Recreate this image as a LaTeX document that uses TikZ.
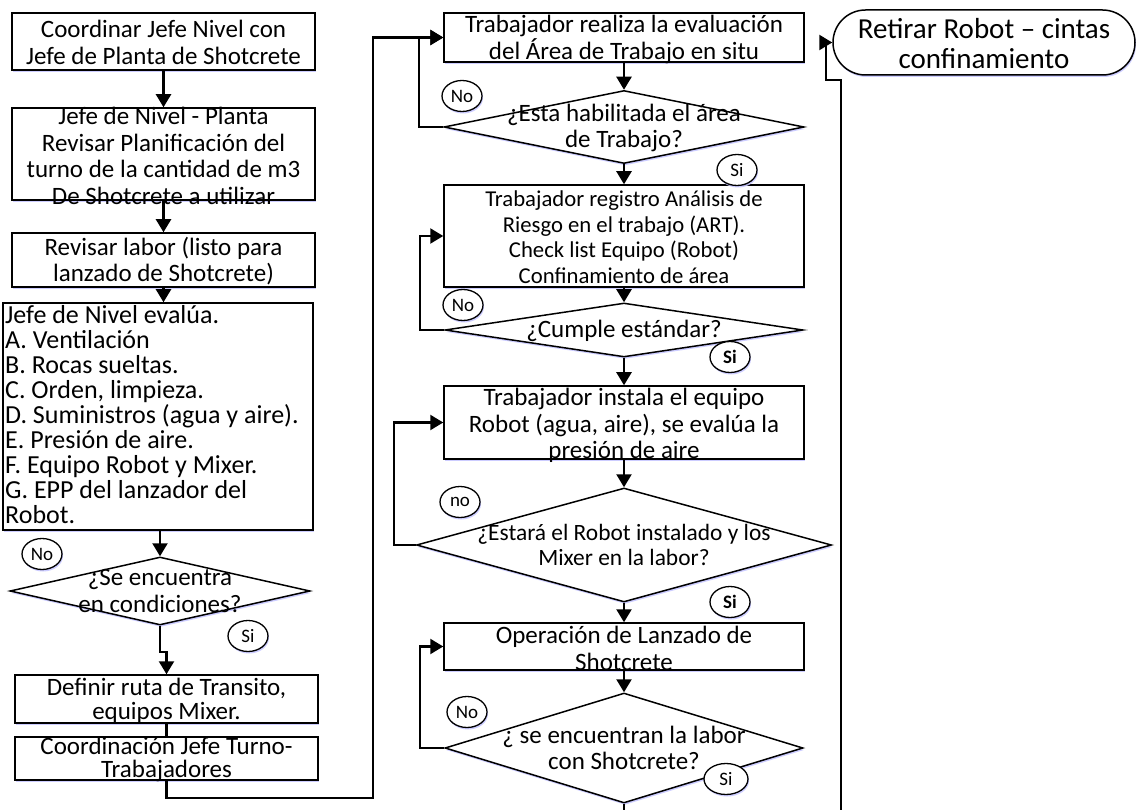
\documentclass[tikz,border=0pt]{standalone}
\usepackage{fontspec}
\setmainfont{Carlito}
\usetikzlibrary{arrows.meta,shapes.geometric,shapes.misc,shadows,calc}
\tikzset{
  shd/.style={drop shadow={shadow xshift=1pt,shadow yshift=-2pt,fill=blue!22,opacity=0.9}},
  box/.style={draw, rectangle, line width=1.5pt, fill=white, inner sep=0pt, shd},
  dia/.style={draw, diamond, line width=1.5pt, fill=white, inner sep=0pt, shd},
  term/.style={draw, rounded rectangle, line width=1.5pt, fill=white, inner sep=0pt, shd},
  txt/.style={align=center, inner sep=0pt, font=\fontsize{25}{26.5}\selectfont},
  ttxt/.style={align=center, inner sep=0pt, font=\fontsize{25}{23.5}\selectfont},
  stxt/.style={align=center, inner sep=0pt, font=\fontsize{22.7}{25.5}\selectfont},
  ltxt/.style={align=left, inner sep=0pt, font=\fontsize{26}{25}\selectfont},
  tag/.style={draw, ellipse, line width=1.3pt, fill=white, minimum width=40pt, minimum height=31pt, inner sep=0pt, font=\fontsize{19}{19}\selectfont, shd},
  btag/.style={tag, font=\fontsize{19}{19}\selectfont\bfseries},
  arr/.style={line width=2.3pt, -{Triangle[width=15pt,length=13pt]}},
  ln/.style={line width=2.3pt},
}
\begin{document}
\begin{tikzpicture}[x=1pt,y=-1pt]
\useasboundingbox (0,0) rectangle (1136,810);
\clip (0,0) rectangle (1136,810);
\fill[white] (0,0) rectangle (1136,810);

% left column
\node[box, minimum width=303pt, minimum height=57pt] (b1) at (163.5,41.5) {};
\node[txt] (t1) at ($(b1)+(0,1)$) {Coordinar Jefe Nivel con\\Jefe de Planta de Shotcrete};
\node[box, minimum width=303pt, minimum height=92pt] (b2) at (163.5,154) {};
\node[txt] (t2) at ($(b2)+(0,2)$) {Jefe de Nivel - Planta\\Revisar Planificación del\\turno de la cantidad de m3\\De Shotcrete a utilizar};
\node[box, minimum width=303pt, minimum height=54pt] (b3) at (163.5,260) {};
\node[txt] (t3) at ($(b3)+(0,1)$) {Revisar labor (listo para\\lanzado de Shotcrete)};
\node[box, minimum width=310pt, minimum height=227pt] (b4) at (158,416.5) {};
\node[ltxt, anchor=north west] (t4) at (5,305) {Jefe de Nivel evalúa.\\A. Ventilación\\B. Rocas sueltas.\\C. Orden, limpieza.\\D. Suministros (agua y aire).\\E. Presión de aire.\\F. Equipo Robot y Mixer.\\G. EPP del lanzador del\\Robot.};
\node[dia, minimum width=300pt, minimum height=68pt] (d1) at (160,591) {};
\node[txt] (td1) at (d1) {¿Se encuentra\\en condiciones?};
\node[box, minimum width=303pt, minimum height=48pt] (b5) at (166.5,699) {};
\node[ttxt] (t5) at ($(b5)+(0,2)$) {Definir ruta de Transito,\\equipos Mixer.};
\node[box, minimum width=303pt, minimum height=43pt] (b6) at (166.5,758.5) {};
\node[ttxt] (t6) at ($(b6)+(0,1)$) {Coordinación Jefe Turno-\\Trabajadores};

% middle column
\node[box, minimum width=360pt, minimum height=49pt] (m1) at (624,37.5) {};
\node[txt] (tm1) at ($(m1)+(0,2)$) {Trabajador realiza la evaluación\\del Área de Trabajo en situ};
\node[dia, minimum width=360pt, minimum height=73pt] (d2) at (624,127) {};
\node[txt] (td2) at ($(d2)+(0,1)$) {¿Esta habilitada el área\\de Trabajo?};
\node[box, minimum width=360pt, minimum height=102pt] (m2) at (624,236) {};
\node[stxt] (tm2) at ($(m2)+(0,1)$) {Trabajador registro Análisis de\\Riesgo en el trabajo (ART).\\Check list Equipo (Robot)\\Confinamiento de área};
\node[dia, minimum width=358pt, minimum height=54pt] (d3) at (624,330) {};
\node[txt] (td3) at ($(d3)+(0,1)$) {¿Cumple estándar?};
\node[box, minimum width=360pt, minimum height=73pt] (m3) at (624,422.5) {};
\node[txt] (tm3) at ($(m3)+(0,3)$) {Trabajador instala el equipo\\Robot (agua, aire), se evalúa la\\presión de aire};
\node[dia, minimum width=415pt, minimum height=114pt] (d4) at (624,545) {};
\node[stxt, font=\fontsize{23.4}{25}\selectfont] (td4) at (d4) {¿Estará el Robot instalado y los\\Mixer en la labor?};
\node[box, minimum width=360pt, minimum height=47pt] (m4) at (624,646.5) {};
\node[txt] (tm4) at ($(m4)+(0,2)$) {Operación de Lanzado de\\Shotcrete};
\node[dia, minimum width=358pt, minimum height=110pt] (d5) at (624,748) {};
\node[txt] (td5) at (d5) {¿ se encuentran la labor\\con Shotcrete?};

% right
\node[term, minimum width=302pt, minimum height=65pt] (r) at (984,42.5) {};
\node[align=center, inner sep=0pt, font=\fontsize{29}{30}\selectfont] (tr) at ($(r)+(0,1)$) {Retirar Robot – cintas\\confinamiento};

% tags
\node[tag] (n1) at (42,554) {No};
\node[tag] (s1) at (248,636) {Si};
\node[tag] (n2) at (462,96) {No};
\node[tag] (s2) at (737,170) {Si};
\node[tag] (n3) at (463,305) {No};
\node[btag] (s3) at (730,357) {Si};
\node[tag] (n4) at (460,502) {no};
\node[btag] (s4) at (730,602) {Si};
\node[tag] (n5) at (467,712) {No};
\node[tag, minimum width=44pt] (s5) at (726,779) {Si};

% connectors left
\draw[arr] (b1.south) -- (b2.north);
\draw[arr] (b2.south) -- (b3.north);
\draw[arr] (b3.south) -- (b3.south |- b4.north);
\draw[arr] (d1.north |- b4.south) -- (d1.north);
\draw[arr] (d1.south) -- ++(0,26) -| (b5.north);
\draw[ln] (b5.south) -- (b6.north);
\coordinate (c1) at (373,798);
\draw[arr] (b6.south) |- (c1) |- (m1.west);

% connectors middle
\draw[arr] (m1.south) -- (d2.north);
\draw[arr] (d2.south) -- (m2.north);
\draw[arr] (m2.south) -- (d3.north);
\draw[arr] (d3.south) -- (m3.north);
\draw[arr] (m3.south) -- (d4.north);
\draw[arr] (d4.south) -- (m4.north);
\draw[arr] (m4.south) -- (d5.north);
\draw[arr] (d2.west) -- ++(-24,0) |- (m1.west);
\draw[arr] (d3.west) -- ++(-24,0) |- (m2.west);
\draw[arr] (d4.west) -- ++(-22,0) |- (m3.west);
\draw[arr] (d5.west) -- ++(-24,0) |- (m4.west);

% to end
\coordinate (e1) at (841,818);
\coordinate (e2) at (841,80);
\coordinate (e3) at (826,80);
\draw[arr] (d5.south) |- (e1) -- (e2) -- (e3) |- (r.west);
\end{tikzpicture}
\end{document}
